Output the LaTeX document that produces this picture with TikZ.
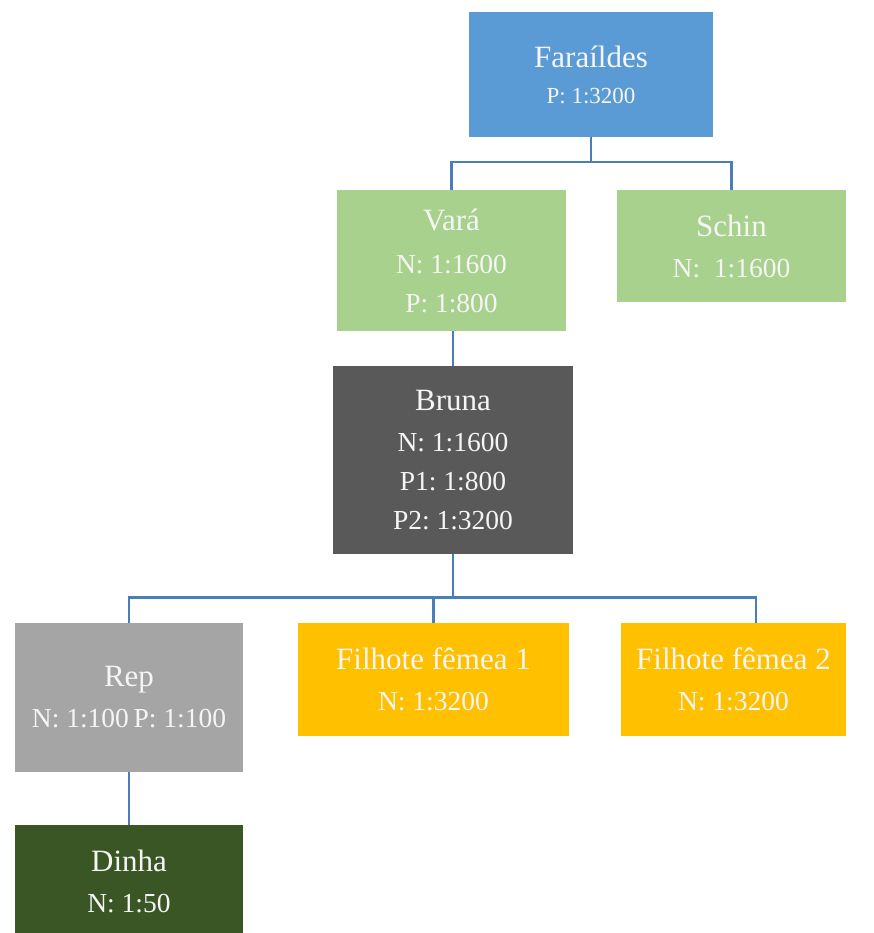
\documentclass[tikz,border=0pt]{standalone}
\usepackage{fontspec}
\setmainfont{Liberation Serif}
\definecolor{cblue}{HTML}{5B9BD5}
\definecolor{cgreen}{HTML}{A9D18E}
\definecolor{cdark}{HTML}{595959}
\definecolor{cgray}{HTML}{A5A5A5}
\definecolor{cgold}{HTML}{FFC000}
\definecolor{cforest}{HTML}{3A5624}
\definecolor{cline}{HTML}{4A7EBB}
\begin{document}
\begin{tikzpicture}[x=1pt,y=-1pt,
  box/.style={rectangle, inner sep=0pt, align=center, text=white!96!black,
    font=\frenchspacing\fontsize{27.5}{39}\selectfont},
  link/.style={draw=cline, line width=2.6pt}]
\useasboundingbox (0,0) rectangle (874,933);
\newcommand{\hd}[1]{{\fontsize{31}{39}\selectfont #1}}

\node[box, fill=cblue, minimum width=244pt, minimum height=125pt] (far) at (591,74.5)
  {\hd{Faraíldes}\\[-3pt]{\fontsize{23}{39}\selectfont P: 1:3200}};
\node[box, fill=cgreen, minimum width=229pt, minimum height=141pt] (vara) at (451.5,260.5)
  {\hd{Vará}\\[4pt]N: 1:1600\\P: 1:800};
\node[box, fill=cgreen, minimum width=229pt, minimum height=112pt] (schin) at (731.5,246)
  {\hd{Schin}\\[2pt]N:\ \ 1:1600};
\node[box, fill=cdark, minimum width=240pt, minimum height=188pt] (bruna) at (453,460)
  {\hd{Bruna}\\[2pt]N: 1:1600\\P1: 1:800\\P2: 1:3200};
\node[box, fill=cgray, minimum width=228pt, minimum height=149pt] (rep) at (129,697.5)
  {\hd{Rep}\\[2pt]N: 1:100\,P: 1:100};
\node[box, fill=cgold, minimum width=271pt, minimum height=113pt] (f1) at (433.5,679.5)
  {\hd{Filhote fêmea 1}\\[2pt]N: 1:3200};
\node[box, fill=cgold, minimum width=225pt, minimum height=113pt] (f2) at (733.5,679.5)
  {\hd{Filhote fêmea 2}\\[2pt]N: 1:3200};
\node[box, fill=cforest, minimum width=228pt, minimum height=112pt] (dinha) at (129,881)
  {\hd{Dinha}\\[2pt]N: 1:50};

% connectors
\draw[link] (far.south) -- ++(0,25) -| (vara.north);
\draw[link] (far.south) -- ++(0,25) -| (schin.north);
\draw[link] (bruna.north) -- (bruna.north |- vara.south);
\coordinate (dropB) at (756,623);
\draw[link] (bruna.south) -- ++(0,43) -| (rep.north);
\draw[link] (bruna.south) -- ++(0,43) -| (f1.north);
\draw[link] (bruna.south) -- ++(0,43) -| (dropB);
\draw[link] (rep.south) -- (dinha.north);
\end{tikzpicture}
\end{document}
